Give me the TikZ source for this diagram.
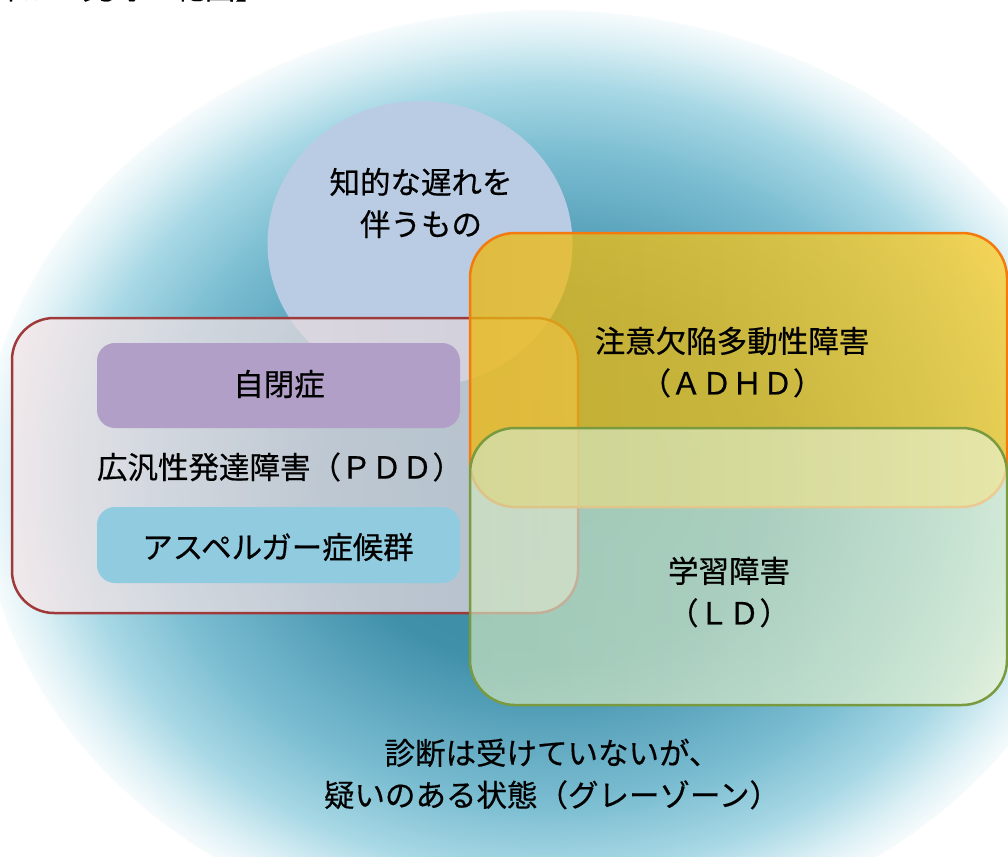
\documentclass[tikz,border=0pt]{standalone}
\usepackage{fontspec}
\setmainfont{Noto Sans CJK JP}[FakeBold=0.5]
\usetikzlibrary{shapes.geometric}
\definecolor{bg0}{RGB}{56,136,162}
\definecolor{bg1}{RGB}{64,144,170}
\definecolor{bg2}{RGB}{96,168,192}
\definecolor{bg3}{RGB}{124,190,210}
\definecolor{bg4}{RGB}{168,216,229}
\definecolor{bg5}{RGB}{220,240,245}
\definecolor{bg6}{RGB}{255,255,255}
\definecolor{circ}{RGB}{185,204,228}
\definecolor{pddred}{RGB}{160,58,58}
\definecolor{pddL}{RGB}{244,230,232}
\definecolor{pddR}{RGB}{212,206,214}
\definecolor{autfill}{RGB}{177,159,199}
\definecolor{aspfill}{RGB}{145,203,223}
\definecolor{adhdline}{RGB}{244,122,14}
\definecolor{adhdL}{RGB}{236,184,14}
\definecolor{adhdR}{RGB}{252,204,40}
\definecolor{ldline}{RGB}{122,154,64}
\definecolor{ldL}{RGB}{208,230,192}
\definecolor{ldR}{RGB}{232,242,210}
\pgfdeclareradialshading{bgsh}{\pgfpoint{0bp}{0bp}}{color(0bp)=(bg0); color(10bp)=(bg1); color(14bp)=(bg2); color(17.5bp)=(bg3); color(21bp)=(bg4); color(23.5bp)=(bg5); color(25.5bp)=(bg6); color(50bp)=(bg6)}
\begin{document}
\begin{tikzpicture}[x=1pt,y=-1pt,
  every node/.style={inner sep=0pt},
  lbl/.style={font=\fontsize{30.5}{42}\selectfont, align=center, text=black},
  setbox/.style={rectangle, line width=2.5pt, fill opacity=#1, draw opacity=1},
  innerbox/.style={rectangle, rounded corners=18pt, minimum width=363pt}]
\useasboundingbox (0,0) rectangle (1008,856);
\begin{scope}
\clip (0,0) rectangle (1008,856);
\fill[white] (0,0) rectangle (1008,856);
\shade[shading=bgsh] (545,478) ellipse [x radius=565pt, y radius=468pt];
% intellectual disability circle
\node[ellipse, fill=circ, minimum width=305pt, minimum height=286pt] (ment) at (420,244) {};
% PDD box
\node[setbox=0.78, rounded corners=42pt, draw=pddred, left color=pddL, right color=pddR,
      minimum width=566pt, minimum height=295pt] (pdd) at (295,465.5) {};
\node[innerbox, fill=autfill, minimum height=85pt] (aut) at (278.5,385.5) {};
\node[innerbox, fill=aspfill, minimum height=76pt] (asp) at (278.5,545) {};
\node[lbl] (autt) at (279,384) {自閉症};
\node[lbl] (pddt) at (280,467) {広汎性発達障害（ＰＤＤ）};
\node[lbl] (aspt) at (278,547) {アスペルガー症候群};
% ADHD box
\node[setbox=0.76, rounded corners=45pt, draw=adhdline, left color=adhdL, right color=adhdR,
      minimum width=537pt, minimum height=274pt] (adhd) at (738.5,370) {};
% LD box
\node[setbox=0.68, rounded corners=45pt, draw=ldline, left color=ldL, right color=ldR,
      minimum width=537pt, minimum height=277pt] (ld) at (738.5,566.5) {};
\node[lbl] (mentt) at (421,203) {知的な遅れを\\伴うもの};
\node[lbl] (adhdt) at (732,362) {注意欠陥多動性障害\\（ＡＤＨＤ）};
\node[lbl] (ldt) at (729,592) {学習障害\\（ＬＤ）};
\node[lbl] (gray) at (552,774) {診断は受けていないが、\\疑いのある状態（グレーゾーン）};
\node[lbl, anchor=base east] (title) at (266,-1) {【発達障がい児等の範囲】};
\end{scope}
\end{tikzpicture}
\end{document}
